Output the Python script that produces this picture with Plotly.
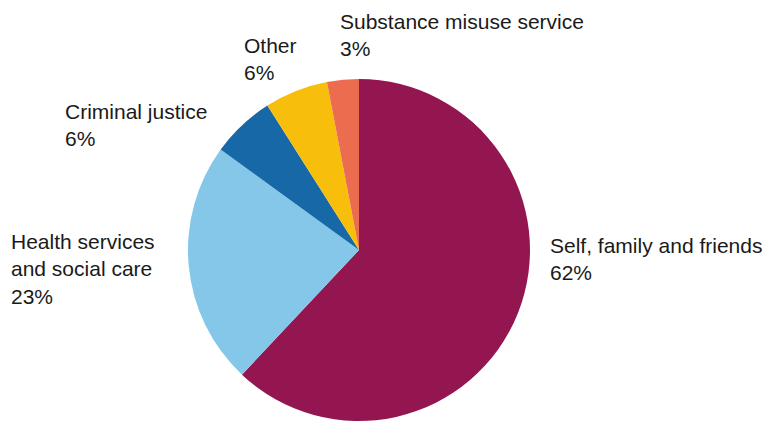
import plotly.graph_objects as go

# Source of referral, share of total
categories = [
    "Self, family and friends",
    "Health services<br>and social care",
    "Criminal justice",
    "Other",
    "Substance misuse service",
]
values = [62, 23, 6, 6, 3]
colors = ["#941651", "#85C7E8", "#1668A6", "#F7BE0C", "#EB6C4F"]

# Label anchor points (pixels from top-left of each text block)
label_x = [548, 9, 63, 242, 338]
label_y = [232, 228, 98, 32, 8]

W, H = 782, 421
cx, cy, r = 359, 250, 171

fig = go.Figure(
    go.Pie(
        labels=categories,
        values=values,
        marker=dict(colors=colors, line=dict(width=0)),
        sort=False,
        direction="clockwise",
        rotation=0,
        textinfo="none",
        hoverinfo="label+percent",
        domain=dict(
            x=[(cx - r) / W, (cx + r) / W],
            y=[1 - (cy + r) / H, 1 - (cy - r) / H],
        ),
    )
)

annotations = []
for name, v, x, y in zip(categories, values, label_x, label_y):
    annotations.append(
        dict(
            x=x / W,
            y=1 - y / H,
            xref="paper",
            yref="paper",
            xanchor="left",
            yanchor="top",
            align="left",
            showarrow=False,
            text=f"{name}<br>{v}%",
            font=dict(family="Liberation Sans, Arial, sans-serif", size=21, color="#1a1a1a"),
        )
    )

fig.update_layout(
    width=W,
    height=H,
    margin=dict(l=0, r=0, t=0, b=0),
    paper_bgcolor="white",
    plot_bgcolor="white",
    showlegend=False,
    annotations=annotations,
)

fig.write_html("out.html")
